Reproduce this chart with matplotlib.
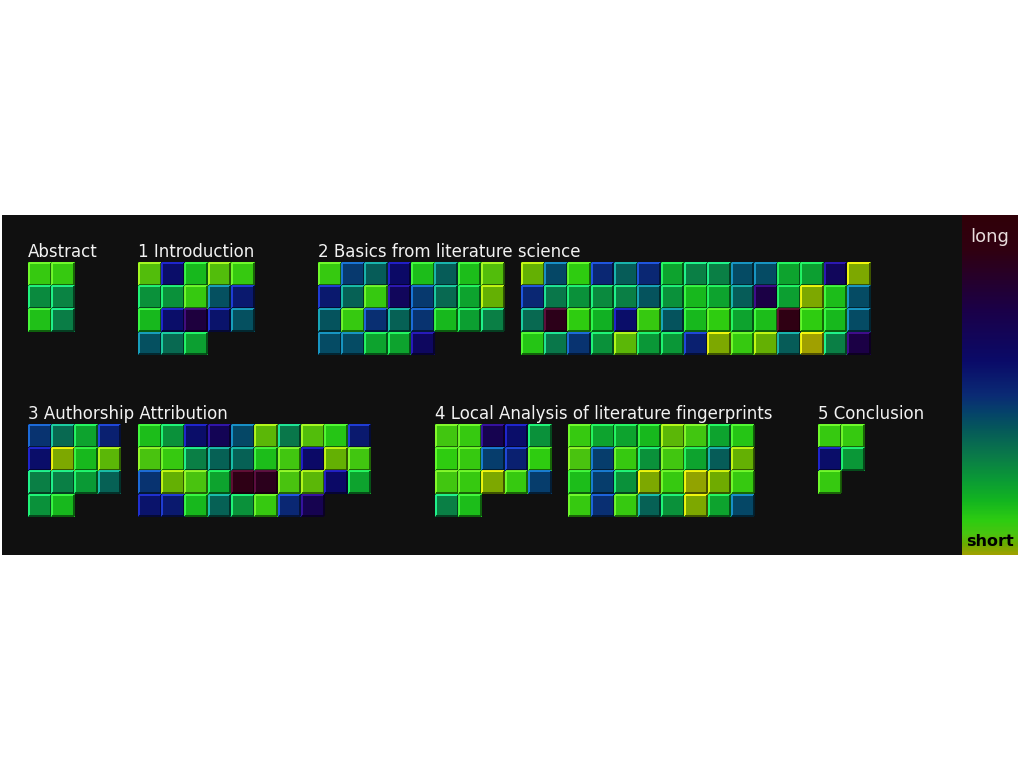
import numpy as np
import matplotlib
matplotlib.use("Agg")
import matplotlib.pyplot as plt
from matplotlib.colors import LinearSegmentedColormap, Normalize
from matplotlib.cm import ScalarMappable

nan = np.nan

# ---- data: average sentence length per text block (0 = short, 1 = long) ----
abstract = [[0.087, 0.087],
            [0.255, 0.27],
            [0.13, 0.283]]

introduction = [[0.053, 0.56, 0.15, 0.053, 0.087],
                [0.24, 0.24, 0.087, 0.39, 0.52],
                [0.15, 0.56, 0.75, 0.54, 0.39],
                [0.39, 0.33, 0.21, nan, nan]]

basics_a = [[0.087, 0.44, 0.36, 0.58, 0.14, 0.36, 0.14, 0.053],
            [0.52, 0.35, 0.087, 0.63, 0.44, 0.33, 0.20, 0.038],
            [0.38, 0.087, 0.46, 0.35, 0.45, 0.15, 0.21, 0.28],
            [0.40, 0.40, 0.20, 0.20, 0.61, nan, nan, nan]]

basics_b = [[0.038, 0.41, 0.10, 0.48, 0.36, 0.48, 0.20, 0.28, 0.28, 0.40, 0.40, 0.20, 0.21, 0.63, 0.023],
            [0.48, 0.30, 0.24, 0.255, 0.28, 0.38, 0.24, 0.15, 0.20, 0.36, 0.73, 0.21, 0.023, 0.14, 0.40],
            [0.33, 0.87, 0.10, 0.17, 0.56, 0.087, 0.38, 0.15, 0.10, 0.20, 0.14, 0.89, 0.10, 0.15, 0.40],
            [0.12, 0.30, 0.45, 0.24, 0.045, 0.227, 0.227, 0.50, 0.023, 0.087, 0.038, 0.36, 0.0, 0.28, 0.73]]

authorship_a = [[0.45, 0.33, 0.20, 0.50],
                [0.56, 0.023, 0.15, 0.045],
                [0.28, 0.28, 0.22, 0.35],
                [0.24, 0.15, nan, nan]]

authorship_b = [[0.14, 0.24, 0.56, 0.66, 0.41, 0.045, 0.30, 0.053, 0.12, 0.52],
                [0.06, 0.087, 0.28, 0.35, 0.35, 0.14, 0.073, 0.58, 0.038, 0.073],
                [0.45, 0.038, 0.06, 0.20, 0.88, 0.86, 0.06, 0.045, 0.58, 0.20],
                [0.54, 0.52, 0.15, 0.35, 0.24, 0.087, 0.48, 0.68, nan, nan]]

local_a = [[0.073, 0.087, 0.68, 0.56, 0.24],
           [0.10, 0.087, 0.43, 0.50, 0.10],
           [0.073, 0.087, 0.023, 0.087, 0.43],
           [0.28, 0.14, nan, nan, nan]]

local_b = [[0.087, 0.20, 0.20, 0.15, 0.045, 0.073, 0.20, 0.12],
           [0.06, 0.43, 0.087, 0.24, 0.073, 0.20, 0.36, 0.038],
           [0.14, 0.43, 0.24, 0.023, 0.087, 0.008, 0.03, 0.087],
           [0.087, 0.46, 0.087, 0.35, 0.24, 0.023, 0.20, 0.41]]

conclusion = [[0.087, 0.087],
              [0.56, 0.23],
              [0.087, nan]]

section_titles = ["Abstract", "1 Introduction", "2 Basics from literature science",
                  "3 Authorship Attribution", "4 Local Analysis of literature fingerprints",
                  "5 Conclusion"]

# ---- colormap ----
cmap = LinearSegmentedColormap.from_list("fp", [
    (0.00, "#a0a000"), (0.03, "#6aac00"), (0.06, "#48c410"), (0.10, "#2dcc10"),
    (0.16, "#12b420"), (0.22, "#0a9a35"), (0.29, "#0a7a48"), (0.37, "#05585a"),
    (0.42, "#05426a"), (0.47, "#0a2a74"), (0.57, "#0a0a68"), (0.72, "#1a0048"),
    (0.90, "#300010"), (1.00, "#300008")])
norm = Normalize(0, 1)

fig = plt.figure(figsize=(10.24, 7.68), dpi=100, facecolor="white")
ax = fig.add_axes([2 / 1024, (768 - 555) / 768, 960 / 1024, 340 / 768])
ax.set_facecolor("#101010")
ax.set_xlim(0, 960)
ax.set_ylim(340, 0)
ax.axis("off")
ax.add_patch(plt.Rectangle((0, 0), 960, 340, color="#101010", zorder=0))

P = 23.3  # cell pitch in px


def draw_block(data, x0, y0):
    arr = np.ma.masked_invalid(np.array(data, dtype=float))
    nr, nc = arr.shape
    X = x0 + np.arange(nc + 1) * P
    Y = y0 + np.arange(nr + 1) * P
    ax.pcolormesh(X, Y, arr, cmap=cmap, norm=norm, zorder=1)
    for i in range(nr):
        for j in range(nc):
            if arr.mask[i, j]:
                continue
            c = np.array(cmap(norm(arr[i, j]))[:3])
            light = np.clip(c * 1.9 + 0.06, 0, 1)
            dark = c * 0.45
            xl, xr = X[j] + 0.8, X[j + 1] - 0.8
            yt, yb = Y[i] + 0.8, Y[i + 1] - 0.8
            ax.plot([xl, xr], [yt, yt], color=light, lw=1.3, zorder=2, solid_capstyle="butt")
            ax.plot([xl, xl], [yt, yb], color=light, lw=1.3, zorder=2, solid_capstyle="butt")
            ax.plot([xl, xr], [yb, yb], color=dark, lw=1.3, zorder=2, solid_capstyle="butt")
            ax.plot([xr, xr], [yt, yb], color=dark, lw=1.3, zorder=2, solid_capstyle="butt")


row1, row2 = 47, 209
draw_block(abstract, 26, row1)
draw_block(introduction, 136, row1)
draw_block(basics_a, 316, row1)
draw_block(basics_b, 519, row1)
draw_block(authorship_a, 26, row2)
draw_block(authorship_b, 136, row2)
draw_block(local_a, 433, row2)
draw_block(local_b, 566, row2)
draw_block(conclusion, 816, row2)

title_pos = [(26, 37), (136, 37), (316, 37), (26, 199), (433, 199), (816, 199)]
for t, (x, y) in zip(section_titles, title_pos):
    ax.text(x, y, t, color="#f2f2f2", fontsize=12, ha="left", va="center",
            family="DejaVu Sans")

# ---- colour bar ----
cax = fig.add_axes([962 / 1024, (768 - 555) / 768, 56 / 1024, 340 / 768])
cb = fig.colorbar(ScalarMappable(norm=norm, cmap=cmap), cax=cax)
cb.set_ticks([])
cb.outline.set_visible(False)
cax.text(0.5, 0.935, "long", transform=cax.transAxes, ha="center", va="center",
         color="#e8dcdc", fontsize=13)
cax.text(0.5, 0.04, "short", transform=cax.transAxes, ha="center", va="center",
         color="black", fontsize=11.5, fontweight="bold")

fig.savefig("out.png", dpi=100, facecolor="white")
